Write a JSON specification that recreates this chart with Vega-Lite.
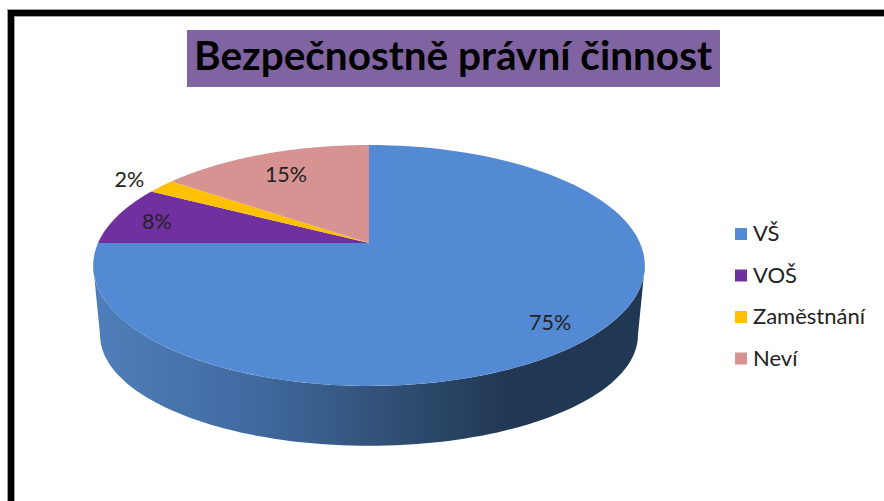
{
"$schema":"https://vega.github.io/schema/vega-lite/v6.json",
"width":884,"height":501,"padding":0,"autosize":"none","background":"white",
"title":{"text":"Bezpečnostně právní činnost","font":"Lato","fontWeight":"bold","fontSize":40.5,"color":"#000000","anchor":"middle","frame":"group","dx":11,"dy":114,"baseline":"alphabetic"},
"config":{"view":{"stroke":null}},
"datasets":{"slices":[
{"order":1,"slice":"VŠ","share":75},
{"order":2,"slice":"VOŠ","share":8},
{"order":3,"slice":"Zaměstnání","share":2},
{"order":4,"slice":"Neví","share":15}
],
"frame":[{"x0":11,"y0":13,"x1":900,"y1":520}],
"banner":[{"x0":187,"y0":30,"x1":720,"y1":87}]},
"resolve":{"scale":{"fill":"independent"}},
"layer":[
{"data":{"name":"frame"},"mark":{"type":"rect","fill":null,"stroke":"#a0a0a0","strokeWidth":8},
 "encoding":{"x":{"field":"x0","type":"quantitative","axis":null,"scale":{"domain":[0,884],"nice":false,"zero":false}},"x2":{"field":"x1"},"y":{"field":"y0","type":"quantitative","axis":null,"scale":{"domain":[501,0],"nice":false,"zero":false}},"y2":{"field":"y1"}}},
{"data":{"name":"frame"},"mark":{"type":"rect","fill":null,"stroke":"black","strokeWidth":6},
 "encoding":{"x":{"field":"x0","type":"quantitative","axis":null},"x2":{"field":"x1"},"y":{"field":"y0","type":"quantitative","axis":null},"y2":{"field":"y1"}}},
{"data":{"name":"banner"},"mark":{"type":"rect","fill":"#8064A2"},
 "encoding":{"x":{"field":"x0","type":"quantitative","axis":null},"x2":{"field":"x1"},"y":{"field":"y0","type":"quantitative","axis":null},"y2":{"field":"y1"}}},
{"data":{"name":"slices"},
 "transform":[
  {"filter":"datum.order==1"},
  {"calculate":"sequence(0,202)","as":"k"},
  {"flatten":["k"]},
  {"calculate":"(datum.k<=100?100.8+1.584*datum.k:100.8+1.584*(201-datum.k))*PI/180","as":"th"},
  {"calculate":"1+0.1867*cos(datum.th)","as":"d"},
  {"calculate":"369+271*sin(datum.th)/datum.d","as":"tx"},
  {"calculate":"(243-70.9*cos(datum.th))/datum.d","as":"ty"},
  {"calculate":"datum.k<=100?datum.tx:369+(datum.tx-369)*0.975","as":"px"},
  {"calculate":"datum.k<=100?datum.ty:335+(datum.ty-265.5)*0.92","as":"py"}
 ],
 "mark":{"type":"line","interpolate":"linear-closed","strokeWidth":0,"fill":{"gradient":"linear","x1":0,"x2":1,"y1":0,"y2":0,"stops":[{"offset":0,"color":"#4F7FBB"},{"offset":0.3,"color":"#40699E"},{"offset":0.62,"color":"#2A4768"},{"offset":0.75,"color":"#213854"},{"offset":1,"color":"#213854"}]}},
 "encoding":{"x":{"field":"px","type":"quantitative","axis":null},"y":{"field":"py","type":"quantitative","axis":null},"order":{"field":"k","type":"quantitative"}}},
{"data":{"name":"slices"},
 "transform":[
  {"window":[{"op":"sum","field":"share","as":"cum"}],"sort":[{"field":"order"}]},
  {"calculate":"sequence(-1,101)","as":"k"},
  {"flatten":["k"]},
  {"calculate":"(datum.cum-datum.share+datum.share*datum.k/100)*3.6*PI/180","as":"th"},
  {"calculate":"1+0.1867*cos(datum.th)","as":"d"},
  {"calculate":"datum.k<0?369:369+271*sin(datum.th)/datum.d","as":"px"},
  {"calculate":"datum.k<0?243:(243-70.9*cos(datum.th))/datum.d","as":"py"}
 ],
 "mark":{"type":"line","interpolate":"linear-closed","strokeWidth":0},
 "encoding":{"x":{"field":"px","type":"quantitative","axis":null},"y":{"field":"py","type":"quantitative","axis":null},"order":{"field":"k","type":"quantitative"},
  "fill":{"field":"slice","type":"nominal","scale":{"domain":["VŠ","VOŠ","Zaměstnání","Neví"],"range":["#538AD3","#7030A0","#FFC000","#D69391"]},
   "legend":{"title":null,"orient":"none","legendX":730,"legendY":223,"symbolType":"square","symbolSize":144,"symbolStrokeWidth":0,"labelFont":"Lato","labelFontSize":22,"labelColor":"#222222","rowPadding":19.5,"labelOffset":1,"labelLimit":200}}}},
{"data":{"name":"slices"},
 "transform":[
  {"window":[{"op":"sum","field":"share","as":"cum"}],"sort":[{"field":"order"}]},
  {"calculate":"(datum.cum-datum.share/2)*3.6*PI/180","as":"th"},
  {"calculate":"datum.share<5?1.17:(datum.share==15?0.76:0.84)","as":"r"},
  {"calculate":"1+0.1867*datum.r*cos(datum.th)","as":"d"},
  {"calculate":"369+271*datum.r*sin(datum.th)/datum.d","as":"px"},
  {"calculate":"(243-70.9*datum.r*cos(datum.th))/datum.d","as":"py"},
  {"calculate":"datum.share+'%'","as":"lab"}
 ],
 "mark":{"type":"text","font":"Lato","fontSize":21.5,"color":"#222222","align":"center","baseline":"middle","dy":3},
 "encoding":{"x":{"field":"px","type":"quantitative","axis":null},"y":{"field":"py","type":"quantitative","axis":null},"text":{"field":"lab"}}}
]}
